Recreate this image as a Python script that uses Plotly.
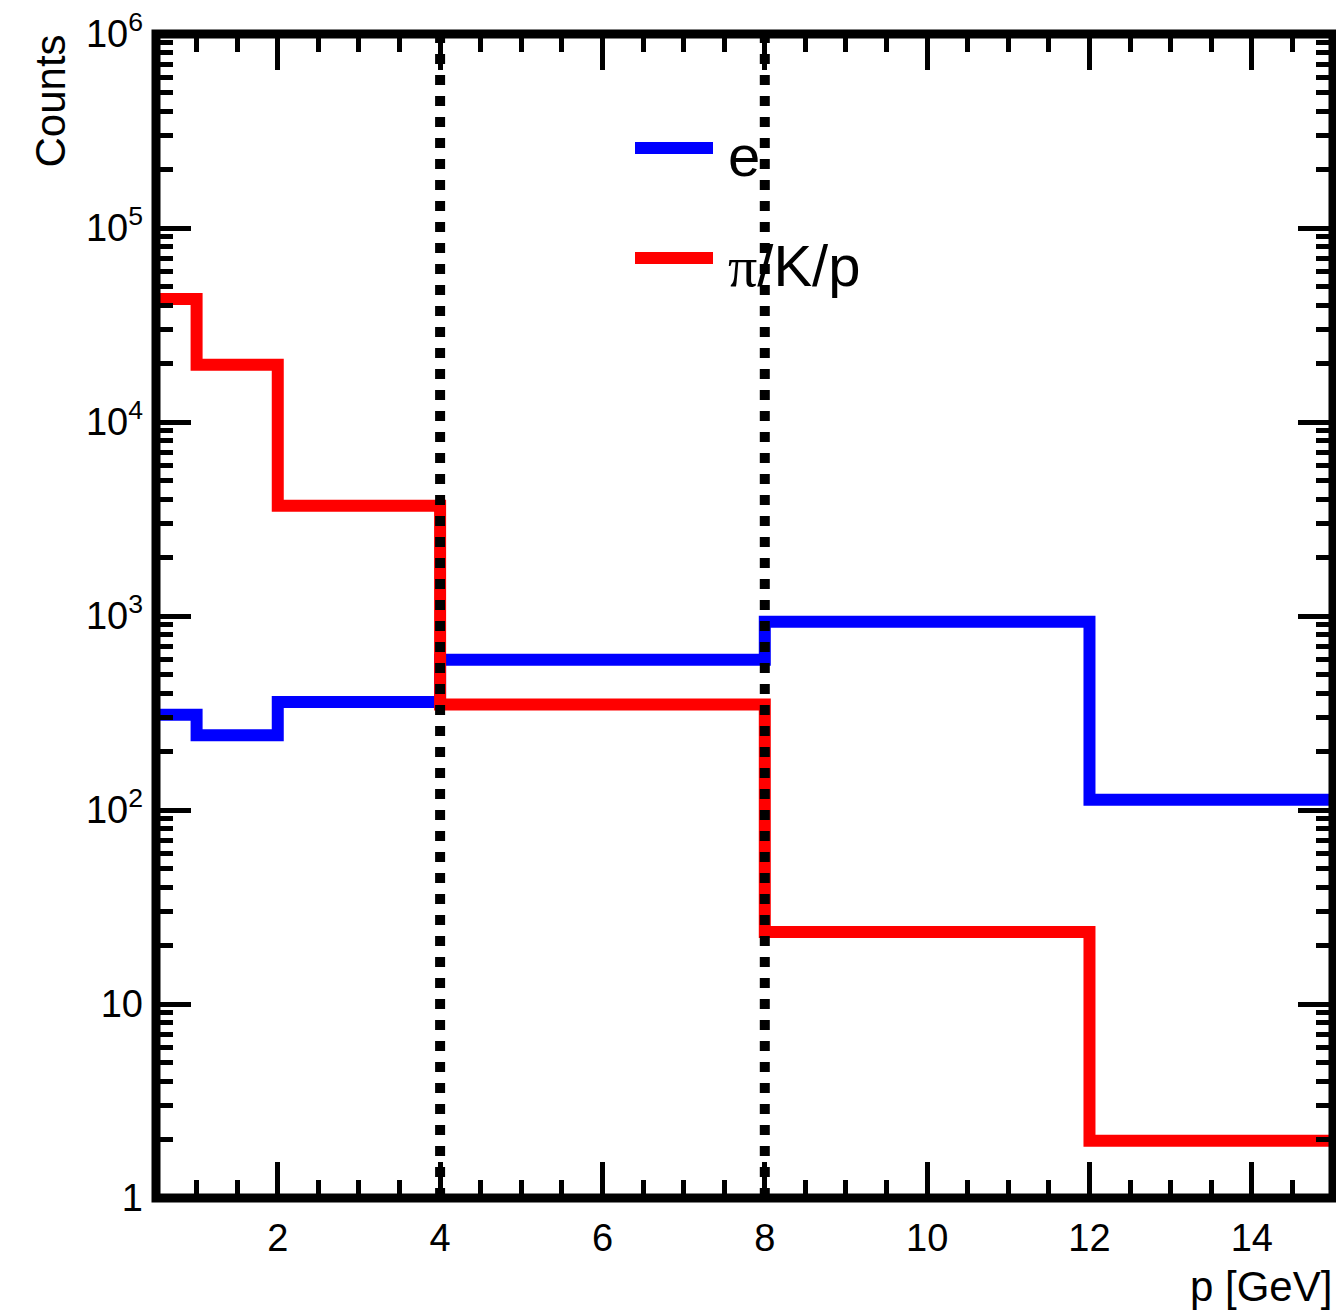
import plotly.graph_objects as go

# ---------------- data ----------------
bin_edges = [0.5, 1, 2, 4, 8, 12, 15]
counts_e = [310, 243, 360, 595, 935, 113]
counts_hadron = [43000, 19700, 3700, 350, 23.5, 1.97]
cut_positions = [4, 8]
series_names = ["e", "π/K/p"]
y_tick_vals = [1, 10, 100, 1000, 10000, 100000, 1000000]
y_tick_text = ["1", "10", "10<sup>2</sup>", "10<sup>3</sup>", "10<sup>4</sup>", "10<sup>5</sup>", "10<sup>6</sup>"]
x_tick_vals = [2, 4, 6, 8, 10, 12, 14]

# ---------------- layout constants ----------------
W, H = 1336, 1312
L, R, T, B = 156, 3, 34, 114
PW, PH = W - L - R, H - T - B
FONT = "Liberation Sans, Arial, Helvetica, sans-serif"


def px(x):
    return (x - L) / PW


def py(y):
    return (H - B - y) / PH


y_minor = [m * 10 ** d for d in range(0, 6) for m in range(2, 10)]

fig = go.Figure()
for name, vals, col in [(series_names[0], counts_e, "#0000ff"),
                        (series_names[1], counts_hadron, "#ff0000")]:
    fig.add_trace(go.Scatter(
        x=bin_edges, y=vals + [vals[-1]], mode="lines",
        line=dict(color=col, width=12, shape="hv"),
        name=name, showlegend=False, hoverinfo="skip"))

shapes = []
for c in cut_positions:
    shapes.append(dict(type="line", xref="x", yref="paper", x0=c, x1=c, y0=0, y1=1,
                       line=dict(color="black", width=10, dash="10px,11px")))
# frame
shapes.append(dict(type="rect", xref="paper", yref="paper", x0=0, x1=1, y0=0, y1=1,
                   line=dict(color="black", width=9), fillcolor="rgba(0,0,0,0)"))
# legend samples
for yy, col in [(148, "#0000ff"), (258, "#ff0000")]:
    shapes.append(dict(type="line", xref="paper", yref="paper",
                       x0=px(635), x1=px(713), y0=py(yy), y1=py(yy),
                       line=dict(color=col, width=12)))

annotations = [
    dict(text="e", x=px(726), y=py(156), xref="paper", yref="paper",
         xanchor="left", yanchor="middle", showarrow=False,
         font=dict(size=58, color="black", family=FONT)),
    dict(text="<span style='font-family:Liberation Serif'>π</span>/K/p",
         x=px(726), y=py(266), xref="paper", yref="paper",
         xanchor="left", yanchor="middle", showarrow=False,
         font=dict(size=58, color="black", family=FONT)),
    dict(text="Counts", x=px(50), y=py(33), xref="paper", yref="paper",
         xanchor="center", yanchor="top", textangle=-90, showarrow=False,
         font=dict(size=42, color="black", family=FONT)),
    dict(text="p [GeV]", x=px(1334), y=py(1286), xref="paper", yref="paper",
         xanchor="right", yanchor="middle", showarrow=False,
         font=dict(size=42, color="black", family=FONT)),
]

fig.update_layout(
    width=W, height=H,
    margin=dict(l=L, r=R, t=T, b=B, pad=0),
    paper_bgcolor="white", plot_bgcolor="white",
    shapes=shapes, annotations=annotations,
    font=dict(family=FONT, color="black", size=38),
    showlegend=False,
)
fig.update_xaxes(
    range=[0.5, 15], tickvals=x_tick_vals, ticks="inside", ticklen=36, tickwidth=5,
    tickcolor="black", showline=False, mirror="ticks", showgrid=False, zeroline=False,
    tickfont=dict(size=38, family=FONT), ticklabelstandoff=14,
    minor=dict(dtick=0.5, tick0=0, ticks="inside", ticklen=18, tickwidth=5,
               tickcolor="black", showgrid=False),
)
fig.update_yaxes(
    type="log", range=[0, 6], tickvals=y_tick_vals, ticktext=y_tick_text,
    ticks="inside", ticklen=35, tickwidth=5, tickcolor="black", showline=False,
    mirror="ticks", showgrid=False, zeroline=False,
    tickfont=dict(size=38, family=FONT), ticklabelstandoff=12,
    minor=dict(tickvals=y_minor, ticks="inside", ticklen=17, tickwidth=5,
               tickcolor="black", showgrid=False),
)

fig.write_html(
    "out.html",
    config={"displayModeBar": False},
    post_script="document.body.style.margin='0';document.body.style.overflow='hidden';",
)
